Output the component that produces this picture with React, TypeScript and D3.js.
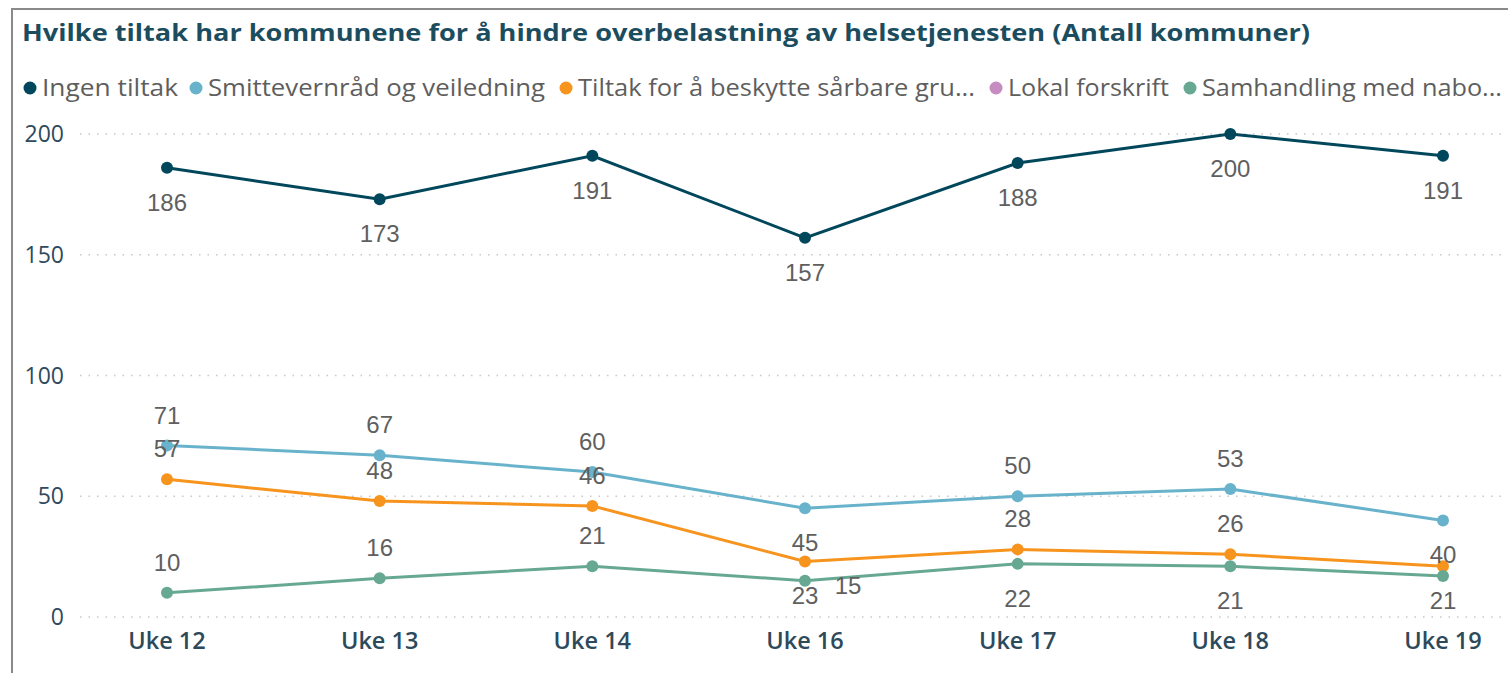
import React from "react";
import * as d3 from "d3";

const title = "Hvilke tiltak har kommunene for å hindre overbelastning av helsetjenesten (Antall kommuner)";
const weeks = ["Uke 12", "Uke 13", "Uke 14", "Uke 16", "Uke 17", "Uke 18", "Uke 19"];
const yTicks = [0, 50, 100, 150, 200];

const seriesNames = [
  "Ingen tiltak",
  "Smittevernråd og veiledning",
  "Tiltak for å beskytte sårbare grupper",
  "Lokal forskrift",
  "Samhandling med nabokommuner",
];
const legendLabels = [
  "Ingen tiltak",
  "Smittevernråd og veiledning",
  "Tiltak for å beskytte sårbare gru...",
  "Lokal forskrift",
  "Samhandling med nabo...",
];
const ingenTiltak = [186, 173, 191, 157, 188, 200, 191];
const smittevern = [71, 67, 60, 45, 50, 53, 40];
const sarbare = [57, 48, 46, 23, 28, 26, 21];
const lokalForskrift: (number | null)[] = [null, null, null, null, null, null, null];
const samhandling = [10, 16, 21, 15, 22, 21, 17];

// label placement chosen by the original chart's collision handling
const ingenPos = ["below", "below", "below", "below", "below", "below", "below"];
const smittePos = ["above", "above", "above", "below", "above", "above", "below"];
const sarbarePos = ["above", "above", "above", "below", "above", "above", "below"];
const lokalPos = ["none", "none", "none", "none", "none", "none", "none"];
const samhPos = ["above", "above", "above", "right", "below", "below", "none"];

const colors = ["#01475C", "#68B3CB", "#F7941D", "#C58CC2", "#67A893"];

const W = 1508;
const H = 673;

export default function App() {
  const x = d3.scalePoint<string>().domain(weeks).range([167, 1443]);
  const y = d3.scaleLinear().domain([0, 200]).range([617, 134]);

  const allSeries = [ingenTiltak, smittevern, sarbare, lokalForskrift, samhandling];
  const allPos = [ingenPos, smittePos, sarbarePos, lokalPos, samhPos];

  const line = d3
    .line<number | null>()
    .defined((d) => d !== null)
    .x((_, i) => x(weeks[i]) as number)
    .y((d) => y(d as number));

  const legendX = [30, 196, 566, 996, 1190];
  const legendW = [136, 337, 397, 161, 300];

  return (
    <svg
      width={W}
      height={H}
      style={{ position: "fixed", left: 0, top: 0, background: "#fff" }}
    >
      <rect x={0} y={0} width={W} height={H} fill="#fff" />
      {/* frame */}
      <line x1={12} y1={9} x2={W} y2={9} stroke="#8a8a8a" strokeWidth={2} />
      <line x1={12} y1={8} x2={12} y2={H} stroke="#8a8a8a" strokeWidth={2} />

      <text
        x={22}
        y={41}
        fontFamily="'Open Sans', sans-serif"
        fontWeight={700}
        fontSize={24}
        fill="#1B4D5F"
        textLength={1288}
        lengthAdjust="spacingAndGlyphs"
      >
        {title}
      </text>

      {/* legend */}
      {legendLabels.map((l, i) => (
        <g key={l}>
          <circle cx={legendX[i]} cy={88} r={6.5} fill={colors[i]} />
          <text
            x={legendX[i] + 12}
            y={96}
            fontFamily="'Open Sans', sans-serif"
            fontSize={24}
            fill="#5E5E5E"
            textLength={legendW[i]}
            lengthAdjust="spacingAndGlyphs"
          >
            {l}
          </text>
        </g>
      ))}

      {/* grid + y ticks */}
      {yTicks.map((t) => (
        <g key={t}>
          <line
            x1={80}
            x2={W}
            y1={y(t)}
            y2={y(t)}
            stroke="#c8c8c8"
            strokeWidth={1.5}
            strokeDasharray="1.5 7"
          />
          <text
            x={64}
            y={y(t) + 8}
            textAnchor="end"
            fontFamily="'Open Sans', sans-serif"
            fontSize={23}
            fill="#2F4A5C"
          >
            {t}
          </text>
        </g>
      ))}

      {/* x ticks */}
      {weeks.map((w) => (
        <text
          key={w}
          x={x(w)}
          y={649}
          textAnchor="middle"
          fontFamily="'Open Sans', sans-serif"
          fontWeight={600}
          fontSize={23.5}
          fill="#2D4A5B"
        >
          {w}
        </text>
      ))}

      {/* lines */}
      {allSeries.map((s, si) => (
        <g key={seriesNames[si]}>
          <path d={line(s) || ""} fill="none" stroke={colors[si]} strokeWidth={3} />
          {s.map((v, i) =>
            v === null ? null : (
              <circle key={i} cx={x(weeks[i])} cy={y(v)} r={6} fill={colors[si]} />
            )
          )}
        </g>
      ))}

      {/* data labels */}
      {allSeries.map((s, si) =>
        s.map((v, i) => {
          const p = allPos[si][i];
          if (v === null || p === "none") return null;
          const px = x(weeks[i]) as number;
          const py = y(v);
          let lx = px;
          let ly = py;
          if (p === "above") ly = py - 31;
          else if (p === "below") ly = py + 34;
          else if (p === "right") {
            lx = px + 43;
            ly = py + 4;
          }
          return (
            <text
              key={`${si}-${i}`}
              x={lx}
              y={ly + 9}
              textAnchor="middle"
              fontFamily="'Liberation Sans', Arial, sans-serif"
              fontSize={24}
              fill="#5F5F5F"
            >
              {v}
            </text>
          );
        })
      )}
    </svg>
  );
}
